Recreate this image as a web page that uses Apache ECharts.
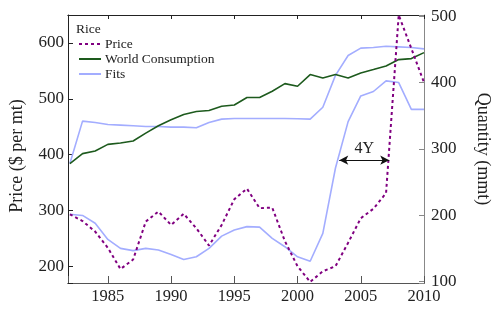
<!DOCTYPE html>
<html><head><meta charset="utf-8">
<script src="https://cdn.jsdelivr.net/npm/echarts@6/dist/echarts.min.js"></script>
<style>html,body{margin:0;padding:0;background:#fff}#c{width:500px;height:333px}</style>
</head><body><div id="c"></div>
<script>
var years = [1982,1983,1984,1985,1986,1987,1988,1989,1990,1991,1992,1993,1994,1995,1996,1997,1998,1999,2000,2001,2002,2003,2004,2005,2006,2007,2008,2009,2010];
var price = [293,281,262,233,195,212,280,298,274,294,268,237,274,320,339,304,305,245,200,172,191,200,242,286,303,331,650,590,529];
var consumption = [278,293,297,307,309,312,324,335,344,352,356.5,358,364.5,366.4,377.6,377.6,387,398.6,394.6,412.2,407.1,412.2,407.1,414.6,419.7,425.2,434.8,436.3,445.3];
var fitPrice = [293,291,277,248,232,228,232,229,221,212,217,232,254,265,271,270,250,235,217,209,259,376,459,505,513,532,529,481,481];
var fitQuantity = [278,342,340,337,336,335,334,334,333,333,332,340,345,346,346,346,346,346,345.5,345,363,411,441,452,453,455,454,453,451];
var xLabelTicks = [1985,1990,1995,2000,2005,2010];
var priceTicks = [200,300,400,500,600];
var quantityTicks = [100,200,300,400,500];
var arrowYears = [2003.3, 2007.25];
var arrowLevel = 390;
var arrowText = '4Y';

function pairs(xs, ys){ return xs.map(function(x,i){ return [x, ys[i]]; }); }
var minorYears = years.slice();

var FONT = 'Liberation Serif';
var chart = echarts.init(document.getElementById('c'));
function plain(v){ return String(v); }
// pos is the option given; ECharts moves a second axis asked for an already used side to the other side
function xAx(pos, side, major, visibleLabels){
  var c = side==='bottom' ? '#222' : '#555';
  return {
    type:'value', position:pos, min:1981.85, max:2010,
    axisLine:{show:true, lineStyle:{color:c, width:1}},
    axisTick:{show:true, inside:true, length: major?7:4, lineStyle:{color:c}},
    axisLabel: visibleLabels ?
      {show:true, customValues:xLabelTicks, formatter:plain, margin:5, fontFamily:FONT, fontSize:16.5, color:'#222'} :
      {show:true, customValues: major?xLabelTicks:minorYears, formatter:plain, margin:2, fontSize:1, color:'rgba(0,0,0,0)'},
    splitLine:{show:false}
  };
}
chart.setOption({
  animation:false,
  backgroundColor:'#fff',
  grid:{left:65, right:67, top:15, bottom:50},
  title:{text:'Rice', left:76, top:22, padding:0,
    textStyle:{fontFamily:FONT, fontSize:13.5, fontWeight:'normal', color:'#222'}},
  legend:{
    data:['Price','World Consumption','Fits'],
    orient:'vertical', left:78, top:37, padding:0, itemGap:1,
    itemWidth:22, itemHeight:10,
    itemStyle:{opacity:0},
    textStyle:{fontFamily:FONT, fontSize:13.5, color:'#222', padding:[0,0,0,-1]}
  },
  xAxis:[
    xAx('bottom','bottom',true,true),
    xAx('top','top',false,false),
    xAx('bottom','top',true,false),
    xAx('top','bottom',false,false)
  ],
  yAxis:[
    {type:'value', position:'left', min:170, max:650,
     name:'Price ($ per mt)', nameLocation:'middle', nameGap:42, nameRotate:90,
     nameTextStyle:{fontFamily:FONT, fontSize:18, color:'#222', padding:[0,0,0,-14]},
     axisLine:{show:true, lineStyle:{color:'#222'}},
     axisTick:{show:true, inside:true, length:5, lineStyle:{color:'#222'}},
     axisLabel:{customValues:priceTicks, formatter:plain, margin:4, fontFamily:FONT, fontSize:17, color:'#222'},
     splitLine:{show:false}},
    {type:'value', position:'right', min:98, max:502,
     name:'Quantity (mmt)', nameLocation:'middle', nameGap:50, nameRotate:-90,
     nameTextStyle:{fontFamily:FONT, fontSize:18, color:'#222'},
     axisLine:{show:true, lineStyle:{color:'#888'}},
     axisTick:{show:true, inside:true, length:5, lineStyle:{color:'#888'}},
     axisLabel:{customValues:quantityTicks, formatter:plain, margin:7, fontFamily:FONT, fontSize:17, color:'#222'},
     splitLine:{show:false}}
  ],
  series:[
    {name:'Fits', type:'line', xAxisIndex:0, yAxisIndex:1, data:pairs(years, fitQuantity),
     symbol:'none', lineStyle:{color:'#a3adff', width:1.6}, itemStyle:{color:'#a3adff'}},
    {name:'Fits', type:'line', xAxisIndex:0, yAxisIndex:0, data:pairs(years, fitPrice),
     symbol:'none', lineStyle:{color:'#a3adff', width:1.6}, itemStyle:{color:'#a3adff'}},
    {name:'World Consumption', type:'line', xAxisIndex:0, yAxisIndex:1, data:pairs(years, consumption),
     symbol:'none', lineStyle:{color:'#1d5a1d', width:1.6}, itemStyle:{color:'#1d5a1d'}},
    {name:'Price', type:'line', xAxisIndex:0, yAxisIndex:0, data:pairs(years, price),
     symbol:'none', lineStyle:{color:'#800080', width:2, type:[3,3]}, itemStyle:{color:'#800080'},
     markLine:{silent:true, symbol:['arrow','arrow'], symbolSize:[7,9],
       lineStyle:{color:'#111', type:'solid', width:1},
       label:{show:true, position:'middle', formatter:arrowText, fontFamily:FONT, fontSize:16, color:'#222', distance:3},
       data:[[{coord:[arrowYears[0], arrowLevel]},{coord:[arrowYears[1], arrowLevel]}]]}}
  ]
});
</script></body></html>
